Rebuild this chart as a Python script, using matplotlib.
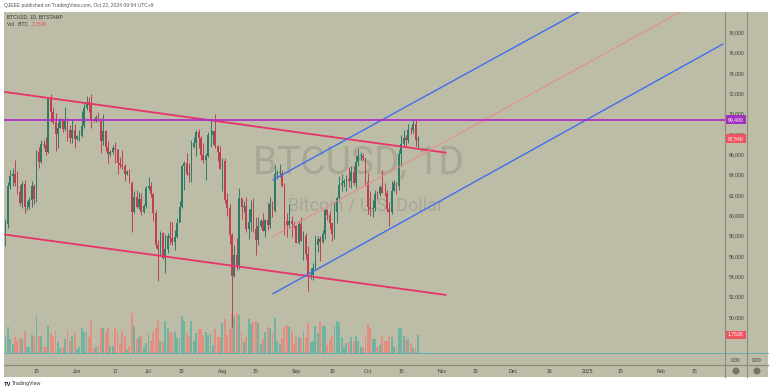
import pandas as pd
import matplotlib
matplotlib.use('Agg')
import matplotlib.pyplot as plt
import matplotlib.dates as mdates
import matplotlib.transforms as mtransforms
from matplotlib.patches import Rectangle, Ellipse
from matplotlib.lines import Line2D

# ---- data: BTCUSD daily (Bitstamp), 2024-05-01 .. 2024-10-22 ----
dates = pd.date_range('2024-05-01', '2024-10-22', freq='D')
first_open = 60630
close = [58250, 59120, 62890, 63890, 64030, 63170, 62330, 61190, 63070, 60800,
         60830, 61460, 62900, 61560, 66250, 65240, 67020, 66920, 66270, 71450,
         70140, 69150, 67950, 68560, 69280, 68500, 69400, 68350, 67600, 68350, 67500,
         67750, 67750, 68800, 70550, 71100, 70800, 69350, 69300, 69650, 69500,
         67300, 68250, 66750, 66000, 66200, 66650, 66500, 65150, 64950, 64850,
         64100, 64250, 63200, 60300, 61800, 60850, 61600, 60300, 60900, 62700,
         62850, 62050, 60200, 57050, 56650, 58250, 55850, 56700, 58000, 57750,
         57350, 57900, 59200, 60800, 64800, 65100, 64100, 63950, 66700, 67150,
         68200, 67600, 65950, 65400, 65800, 67900, 67900, 68250, 66800, 66200, 64600,
         65350, 61500, 60700, 58100, 54000, 56050, 55100, 61700, 60850, 60900,
         58700, 59350, 60600, 58700, 57550, 58900, 59450, 58450, 59500, 59000,
         61150, 60400, 64100, 64200, 64200, 62850, 59450, 59050, 59400, 59100, 58950,
         57300, 59100, 57500, 57950, 56150, 53950, 54150, 54850, 57050, 57650,
         57350, 58150, 60550, 60000, 59200, 58200, 60300, 61750, 62950, 63200,
         63350, 63600, 63350, 64250, 63150, 65200, 65850, 65850, 65600, 63300,
         60800, 60650, 60750, 62100, 62050, 62800, 62200, 62150, 60600, 60300,
         62400, 63200, 62850, 66050, 67050, 67600, 67400, 68400, 68350, 69000,
         67400, 67540]
high = [60800, 59600, 63300, 64500, 64650, 65450, 64400, 62950, 63400, 63450,
        61400, 61800, 63400, 63100, 66400, 66700, 67450, 67400, 67650, 71500,
        71950, 70650, 70100, 69200, 69600, 69500, 70600, 69550, 68900, 69500, 69000,
        67850, 68400, 70250, 71100, 71750, 71600, 71950, 69550, 69850, 70150,
        69550, 69950, 68400, 67300, 66450, 66950, 67200, 66550, 65750, 66450,
        65050, 64500, 64550, 63350, 62350, 62500, 62300, 62200, 61150, 62900,
        63800, 63300, 62200, 60500, 57550, 58500, 58400, 58200, 58300, 59450,
        59300, 58550, 59750, 61400, 64900, 65350, 66100, 65100, 67450, 67650,
        68350, 68450, 67800, 67100, 66100, 68200, 69400, 68300, 70000, 66950, 66800,
        65600, 65600, 62200, 61100, 58300, 57050, 57750, 62700, 61750, 61450,
        61800, 60650, 61550, 61750, 59800, 59800, 59650, 60200, 59600, 61350,
        61800, 61400, 64900, 64500, 65000, 64450, 63200, 60200, 61150, 59900, 59450,
        59050, 59400, 59800, 58500, 58300, 56950, 54850, 55300, 58100, 58000,
        57950, 58600, 60650, 60650, 60400, 59200, 61350, 61800, 63850, 64100,
        63550, 64000, 64750, 64800, 64800, 65850, 66500, 66250, 66100, 65600,
        64150, 62400, 61500, 62450, 62350, 62950, 64450, 63200, 62500, 61300,
        63400, 63450, 63300, 66450, 67900, 68400, 67900, 68950, 68650, 69400,
        69500, 67800]
low = [56550, 56950, 58800, 62600, 62900, 62850, 62100, 60900, 60700, 60250,
       60500, 60650, 60800, 61150, 61350, 64650, 65150, 66650, 65900, 66100,
       69200, 68950, 66300, 66650, 68550, 68200, 68250, 67300, 67100, 67150, 66650,
       67400, 67300, 67650, 68550, 70400, 70150, 68550, 69200, 69150, 69250,
       66100, 66950, 66300, 65100, 65850, 66050, 65100, 64100, 64650, 64550,
       63400, 63950, 63200, 58400, 60250, 60700, 60600, 60000, 60250, 60700,
       62500, 61800, 59450, 56800, 53500, 56100, 55750, 54300, 56300, 57200,
       57050, 56600, 57800, 59300, 60700, 62450, 63950, 63300, 63300, 66600,
       65800, 66600, 65450, 65150, 63500, 65750, 66750, 67050, 66600, 65350, 64550,
       62350, 61200, 59900, 57200, 49050, 53950, 54600, 54750, 59600, 60350,
       58350, 57650, 58450, 58400, 56100, 57100, 58800, 58450, 57850, 58600,
       58800, 59800, 60350, 63600, 63800, 62800, 58100, 57850, 58800, 57850, 58750,
       57250, 57150, 57450, 55600, 55700, 52550, 53750, 53600, 54600, 56400,
       55550, 57300, 57650, 59500, 58700, 57500, 57700, 59200, 61550, 62350,
       62800, 62400, 62750, 62700, 62950, 62700, 64850, 65450, 65450, 62850,
       60150, 59950, 59850, 60450, 61650, 61850, 62150, 61850, 60300, 58900,
       60100, 62400, 62050, 62450, 64800, 66700, 66700, 67150, 67950, 68100,
       66800, 66600]
volume_k = [2.8, 1.7, 2.5, 1.4, 0.9, 1.6, 1.3, 1.5, 1.4, 2.1, 0.6,
            0.6, 1.8, 1.6, 3.6, 1.7, 1.7, 0.6, 0.6, 2.6, 1.9,
            1.6, 2.1, 1.1, 0.5, 0.6, 1.4, 2.2, 1.2, 1.7, 1.9,
            0.4, 0.6, 2.4, 2.0, 2.0, 1.6, 3.1, 0.5, 0.6, 0.8,
            2.4, 2.4, 2.0, 2.4, 0.7, 0.7, 2.4, 2.1, 0.9, 2.1,
            1.7, 0.3, 0.7, 3.9, 2.6, 1.4, 1.6, 1.8, 0.6, 1.0,
            1.9, 1.2, 2.0, 2.4, 3.1, 1.2, 1.1, 3.1, 2.4, 1.9,
            2.0, 2.0, 1.5, 1.5, 3.6, 3.1, 1.9, 1.6, 3.1, 1.2,
            1.9, 2.3, 2.3, 1.8, 2.0, 1.8, 1.9, 0.8, 2.3, 1.6,
            1.6, 2.9, 3.3, 1.8, 2.3, 3.9, 3.6, 3.9, 3.7, 2.1,
            1.1, 1.6, 3.3, 2.8, 3.0, 3.1, 2.9, 0.9, 1.4, 2.0,
            2.5, 2.4, 1.9, 3.4, 1.2, 0.9, 1.5, 2.5, 2.7, 2.5,
            2.0, 0.8, 1.6, 1.6, 1.5, 2.0, 1.6, 2.9, 1.1, 1.2,
            2.6, 1.9, 3.0, 2.6, 2.6, 0.8, 1.4, 1.7, 2.6, 3.1,
            3.0, 1.6, 0.6, 1.0, 1.1, 1.6, 1.2, 1.7, 1.2, 0.6,
            0.5, 1.8, 2.8, 2.4, 1.4, 1.4, 0.6, 0.8, 1.8, 1.2,
            1.2, 1.8, 1.6, 0.6, 0.6, 2.4, 2.4, 1.7, 1.3, 1.4,
            1.0, 0.5, 0.6, 1.753]

# drawn lines: (dates, prices)
upper_red = (['2024-05-01', '2024-11-03'], [72150, 66150])
lower_red = (['2024-05-01', '2024-11-03'], [58130, 52160])
blue_top = (['2024-08-22', '2025-01-06'], [63470, 81100])
blue_bottom = (['2024-08-22', '2025-02-27'], [52260, 76850])
mid_line = (['2024-08-22', '2025-02-15'], [57900, 80770])
hline_price = 69400
last_price = 67540

price_ticks = list(range(50000, 80000, 2000))
time_tick_dates = ['2024-05-15', '2024-06-01', '2024-06-17', '2024-07-01', '2024-07-15',
                   '2024-08-01', '2024-08-15', '2024-09-01', '2024-09-16', '2024-10-01',
                   '2024-10-15', '2024-11-01', '2024-11-15', '2024-12-01', '2024-12-16',
                   '2025-01-01', '2025-01-15', '2025-02-01', '2025-02-15']
time_tick_labels = ['15', 'Jun', '17', 'Jul', '15', 'Aug', '15', 'Sep', '16', 'Oct',
                    '15', 'Nov', '15', 'Dec', '16', '2025', '15', 'Feb', '15']

# ---- styling ----
W, H = 773, 392
BG = '#bdbca6'
GRID = '#8d8c7a'
UP, DOWN = '#2e7b68', '#c0404f'
VUP, VDOWN = '#6fb3a0', '#e38e80'
plt.rcParams['font.family'] = ['Liberation Sans', 'DejaVu Sans']


def fx(px):
    return px / W


def fy(py):
    return 1 - py / H


fig = plt.figure(figsize=(W / 100, H / 100), dpi=100, facecolor='white')
fig.patches.append(Rectangle((fx(4), fy(377)), 764 / W, 365 / H, transform=fig.transFigure,
                             facecolor=BG, edgecolor='none', zorder=-10))

rect = [fx(4), fy(353), 721 / W, 341 / H]
axv = fig.add_axes(rect)
ax = fig.add_axes(rect)
for a in (axv, ax):
    a.patch.set_visible(False)
    for s in a.spines.values():
        s.set_visible(False)

d = mdates.date2num(dates)
opens = [first_open] + close[:-1]
up = [c >= o for o, c in zip(opens, close)]

# volume
axv.bar(d, volume_k, width=0.8, color=[VUP if u else VDOWN for u in up], linewidth=0)
axv.set_ylim(0, 33.2)
axv.set_yticks([])
axv.set_xticks([])

# watermark
axv.text(fx(358), fy(163), 'BTCUSD, 1D', transform=fig.transFigure, ha='center', va='center',
         fontsize=28, color='#a8a796', family='Roboto', zorder=0)
axv.text(fx(365), fy(206), 'Bitcoin / U.S. Dollar', transform=fig.transFigure, ha='center',
         va='center', fontsize=13, color='#a8a796', family='Roboto', zorder=0)

# candles
cols = [UP if u else DOWN for u in up]
ax.vlines(d, low, high, colors=cols, linewidth=0.7, zorder=3)
bottoms = [min(o, c) for o, c in zip(opens, close)]
heights = [max(abs(c - o), 40) for o, c in zip(opens, close)]
ax.bar(d, heights, bottom=bottoms, width=0.75, color=cols, linewidth=0, zorder=3)

# drawings
for (ds, ps), col, lw in [(upper_red, '#e8336b', 1.3), (lower_red, '#e8336b', 1.3),
                          (blue_top, '#3f6ff0', 1.0), (blue_bottom, '#3f6ff0', 1.0),
                          (mid_line, '#e98a84', 0.7)]:
    ax.plot(mdates.date2num(pd.to_datetime(ds)), ps, color=col, lw=lw, zorder=4,
            solid_capstyle='butt')
ax.axhline(hline_price, color='#b12fc6', lw=1.3, zorder=4)

x0 = mdates.date2num(pd.Timestamp('2024-06-01'))
for a in (axv, ax):
    a.set_xlim(x0 - 30.62, x0 + 271.8)
ax.set_ylim(46460, 79990)

ax.yaxis.tick_right()
ax.set_yticks(price_ticks)
ax.set_yticklabels([f'{p:,}' for p in price_ticks])
ax.tick_params(axis='y', length=0, pad=2.6, labelsize=3.7, labelcolor='#3c3c3c')
ax.set_xticks(mdates.date2num(pd.to_datetime(time_tick_dates)))
ax.set_xticklabels(time_tick_labels)
ax.tick_params(axis='x', length=0, pad=11.5, labelsize=3.7, labelcolor='#3c3c3c')

# price labels on the scale
tr = mtransforms.blended_transform_factory(fig.transFigure, ax.transData)
for p, fc in [(hline_price, '#a22fc0'), (last_price, '#f0525f')]:
    ax.text(fx(736), p, f'{p:,}', transform=tr, ha='center', va='center', fontsize=3.7,
            color='white', zorder=10, clip_on=False,
            bbox=dict(boxstyle='square,pad=0.35', fc=fc, ec='none'))
trv = mtransforms.blended_transform_factory(fig.transFigure, axv.transData)
ax.text(fx(736), volume_k[-1], '1.753K', transform=trv, ha='center', va='center',
        fontsize=3.7, color='white', zorder=10, clip_on=False,
        bbox=dict(boxstyle='square,pad=0.35', fc='#f0525f', ec='none'))

# pane separators
fig.add_artist(Line2D([fx(4), fx(768)], [fy(353), fy(353)], color='#5fb0b0', lw=0.7))
fig.add_artist(Line2D([fx(4), fx(768)], [fy(365), fy(365)], color=GRID, lw=0.9))
for xp in (725, 747):
    fig.add_artist(Line2D([fx(xp), fx(xp)], [fy(12), fy(377)], color=GRID, lw=0.8))
for xp in (736, 757):
    fig.text(fx(xp), fy(360), '0.00', ha='center', va='center', fontsize=3.5, color='#3c3c3c')
    fig.patches.append(Ellipse((fx(xp), fy(371)), 7 / W, 7 / H, transform=fig.transFigure,
                               facecolor='#77766a', edgecolor='none'))

# header, legend, footer
fig.text(fx(4), fy(5), 'QJEEE published on TradingView.com, Oct 22, 2024 09:54 UTC+9',
         ha='left', va='center', fontsize=3.6, color='#555555')
fig.text(fx(7), fy(17), 'BTCUSD, 1D, BITSTAMP', ha='left', va='center', fontsize=3.5,
         color='#333333')
fig.text(fx(7), fy(24.5), 'Vol · BTC', ha='left', va='center', fontsize=3.5, color='#333333')
fig.text(fx(32), fy(24.5), '1.753K', ha='left', va='center', fontsize=3.5, color='#e8505c')
fig.text(fx(4), fy(384), 'TV', ha='left', va='center', fontsize=4.2, color='#131722',
         weight='bold')
fig.text(fx(12), fy(384), 'TradingView', ha='left', va='center', fontsize=3.8, color='#333333')

fig.savefig('out.png', dpi=100, facecolor='white')
